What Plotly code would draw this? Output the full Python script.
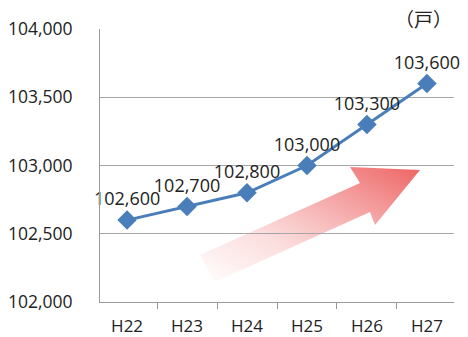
import base64
import plotly.graph_objects as go

categories = ["H22", "H23", "H24", "H25", "H26", "H27"]
values = [102600, 102700, 102800, 103000, 103300, 103600]
y_ticks = [102000, 102500, 103000, 103500, 104000]
y_tick_labels = ["102,000", "102,500", "103,000", "103,500", "104,000"]
unit_label = "（戸）"

W, H = 468, 337
ML, MR, MT, MB = 100, 14, 29, 35
PW, PH = W - ML - MR, H - MT - MB

# decorative gradient arrow (SVG image)
svg = '''<svg xmlns="http://www.w3.org/2000/svg" width="235" height="130" viewBox="0 0 235 130">
<defs><linearGradient id="g" x1="0" y1="1" x2="1" y2="0">
<stop offset="0" stop-color="#f06a6a" stop-opacity="0"/>
<stop offset="0.35" stop-color="#f07878" stop-opacity="0.25"/>
<stop offset="1" stop-color="#ee6464" stop-opacity="1"/>
</linearGradient></defs>
<polygon points="10,95 170,23 160,7 230,10 185,65 180,52 25,122" fill="url(#g)"/>
</svg>'''
src = "data:image/svg+xml;base64," + base64.b64encode(svg.encode()).decode()

fig = go.Figure()
fig.add_trace(go.Scatter(
    x=categories, y=values,
    mode="lines+markers+text",
    line=dict(color="#4A7EBB", width=3),
    marker=dict(symbol="diamond", size=15, color="#4A7EBB"),
    text=[f"{v:,}" for v in values],
    textposition="top center",
    textfont=dict(family="Open Sans, Arial", size=18, color="#222"),
    cliponaxis=False,
    hoverinfo="skip",
))

fig.add_layout_image(dict(
    source=src, xref="paper", yref="paper",
    x=(190 - ML) / PW, y=(MT + PH - 160) / PH,
    sizex=235 / PW, sizey=130 / PH,
    xanchor="left", yanchor="top", sizing="stretch", layer="below",
))

fig.add_annotation(
    text=unit_label, xref="paper", yref="paper", x=1.0, y=1.0,
    xanchor="right", yanchor="bottom", showarrow=False,
    font=dict(family="Noto Sans CJK JP", size=19, color="#222"), yshift=-5,
)

fig.update_layout(
    width=W, height=H,
    margin=dict(l=ML, r=MR, t=MT, b=MB, autoexpand=False),
    paper_bgcolor="white", plot_bgcolor="white",
    showlegend=False,
    xaxis=dict(
        type="category", showgrid=False, automargin=False,
        showline=True, linecolor="#999", linewidth=1,
        ticks="outside", tickson="boundaries", ticklen=6, tickcolor="#999",
        tickfont=dict(family="Open Sans, Arial", size=17, color="#222"),
        ticklabelstandoff=9,
    ),
    yaxis=dict(
        range=[102000, 104000], automargin=False,
        tickvals=y_ticks, ticktext=y_tick_labels,
        showgrid=True, gridcolor="#A6A6A6", gridwidth=1,
        showline=True, linecolor="#999", linewidth=1,
        zeroline=False,
        tickfont=dict(family="Open Sans, Arial", size=17.5, color="#222"),
        ticklabelstandoff=23,
    ),
)

fig.write_html("out.html", config={"displayModeBar": False},
               post_script="document.body.style.margin='0px';")
